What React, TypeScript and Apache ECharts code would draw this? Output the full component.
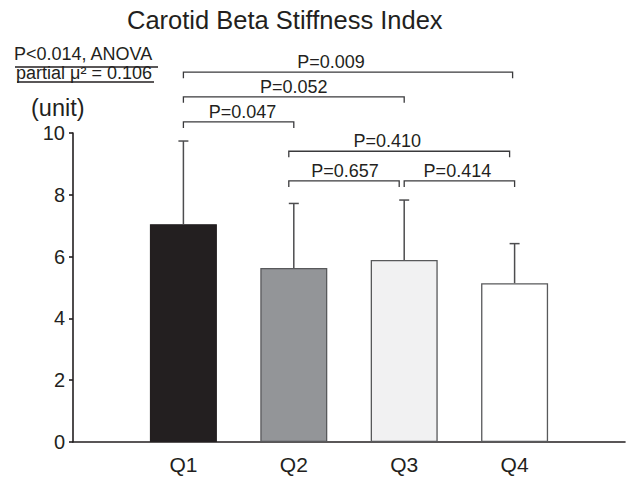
import React, { useEffect, useRef } from "react";
import * as echarts from "echarts";

const categories = ["Q1", "Q2", "Q3", "Q4"];
const means = [7.05, 5.63, 5.89, 5.14];
const sds = [2.69, 2.09, 1.94, 1.28];
const barColors = ["#231f20", "#939598", "#f1f1f2", "#ffffff"];
const yTicks = [0, 2, 4, 6, 8, 10];
const bracketFrom = ["Q1", "Q1", "Q1", "Q2", "Q2", "Q3"];
const bracketTo = ["Q4", "Q3", "Q2", "Q4", "Q3", "Q4"];
const bracketLevel = [11.97, 11.17, 10.36, 9.41, 8.45, 8.45];
const bracketLabels = ["P=0.009", "P=0.052", "P=0.047", "P=0.410", "P=0.657", "P=0.414"];
const titleText = "Carotid Beta Stiffness Index";
const anovaLines = ["P<0.014, ANOVA", "partial μ² = 0.106"];
const unitLabel = "(unit)";

// style-only pixel nudges
const bracketDx = [[0, -2], [0, 0], [0, 0], [-5, -5], [-5, -5], [0, 0]];
const labelDx = [-17, 0, 4, -12, 1, -2];

const FONT = "'Liberation Sans', Arial, Helvetica, sans-serif";
const INK = "#231f20";

export default function App() {
  const ref = useRef<HTMLDivElement>(null);
  useEffect(() => {
    if (!ref.current) return;
    const chart = echarts.init(ref.current, null, { renderer: "svg" });
    const axisData = ["", ...categories, ""];
    const idx = (c: string) => categories.indexOf(c) + 1;

    const barData = axisData.map((c, i) => {
      if (i === 0 || i === axisData.length - 1) return "-";
      const k = i - 1;
      return {
        value: means[k],
        itemStyle: {
          color: barColors[k],
          borderColor: k === 0 ? barColors[0] : "#58595b",
          borderWidth: 1.3,
        },
      };
    });

    const errData = categories.map((c, k) => [idx(c), means[k], sds[k]]);
    const brData = bracketFrom.map((f, i) => [idx(f), idx(bracketTo[i]), bracketLevel[i]]);

    chart.setOption({
      animation: false,
      textStyle: { fontFamily: FONT },
      grid: { left: 73, right: 1, top: 133, bottom: 37, outerBoundsMode: "none" },
      xAxis: {
        type: "category",
        data: axisData,
        boundaryGap: false,
        axisLine: { lineStyle: { color: INK, width: 1.6 } },
        axisTick: { show: false },
        axisLabel: { color: INK, fontSize: 21, margin: 12, fontFamily: FONT, interval: 0 },
        splitLine: { show: false },
      },
      yAxis: {
        type: "value",
        min: yTicks[0],
        max: yTicks[yTicks.length - 1],
        interval: yTicks[1] - yTicks[0],
        axisLine: { show: true, lineStyle: { color: INK, width: 1.6 } },
        axisTick: { show: true, length: 4, lineStyle: { color: INK, width: 1.6 } },
        axisLabel: { color: INK, fontSize: 20, margin: 8, fontFamily: FONT },
        splitLine: { show: false },
      },
      series: [
        {
          type: "bar",
          data: barData,
          barWidth: 67,
        },
        {
          type: "custom",
          data: errData,
          encode: { x: 0, y: 1 },
          z: 3,
          renderItem: (params: any, api: any) => {
            const x = api.value(0);
            const m = api.value(1);
            const s = api.value(2);
            const b = api.coord([x, m]);
            const t = api.coord([x, m + s]);
            const st = { stroke: "#4d4d4f", lineWidth: 1.5 };
            return {
              type: "group",
              children: [
                { type: "line", shape: { x1: b[0], y1: b[1], x2: t[0], y2: t[1] }, style: st },
                { type: "line", shape: { x1: t[0] - 5, y1: t[1], x2: t[0] + 5, y2: t[1] }, style: st },
              ],
            };
          },
        },
        {
          type: "custom",
          data: brData,
          encode: { x: [0, 1], y: 2 },
          clip: false,
          z: 4,
          renderItem: (params: any, api: any) => {
            const i = params.dataIndex;
            const p1 = api.coord([api.value(0), api.value(2)]);
            const p2 = api.coord([api.value(1), api.value(2)]);
            const x1 = p1[0] + bracketDx[i][0];
            const x2 = p2[0] + bracketDx[i][1];
            const y = p1[1];
            return {
              type: "group",
              children: [
                {
                  type: "polyline",
                  shape: { points: [[x1, y + 6], [x1, y], [x2, y], [x2, y + 6]] },
                  style: { stroke: "#3a3a3c", lineWidth: 1.3, fill: "none" },
                },
                {
                  type: "text",
                  x: (x1 + x2) / 2 + labelDx[i],
                  y: y - 1,
                  style: {
                    text: bracketLabels[i],
                    fontSize: 18,
                    fontFamily: FONT,
                    fill: INK,
                    align: "center",
                    verticalAlign: "bottom",
                  },
                },
              ],
            };
          },
        },
      ],
      graphic: [
        {
          type: "text",
          x: 127,
          y: 20,
          style: { text: titleText, fontSize: 25.5, fontFamily: FONT, fill: INK, align: "left", verticalAlign: "middle" },
        },
        {
          type: "text",
          x: 14,
          y: 54,
          style: { text: anovaLines[0], fontSize: 18, fontFamily: FONT, fill: INK, align: "left", verticalAlign: "middle" },
        },
        { type: "line", shape: { x1: 15, y1: 67, x2: 158, y2: 67 }, style: { stroke: INK, lineWidth: 1.3 } },
        {
          type: "text",
          x: 16,
          y: 73.3,
          style: { text: anovaLines[1], fontSize: 18, fontFamily: FONT, fill: INK, align: "left", verticalAlign: "middle" },
        },
        { type: "line", shape: { x1: 17, y1: 82, x2: 154, y2: 82 }, style: { stroke: INK, lineWidth: 1.3 } },
        {
          type: "text",
          x: 31,
          y: 108,
          style: { text: unitLabel, fontSize: 23.5, fontFamily: FONT, fill: INK, align: "left", verticalAlign: "middle" },
        },
      ],
    });
    return () => chart.dispose();
  }, []);
  return <div ref={ref} style={{ width: 626, height: 479, position: "absolute", left: 0, top: 0 }} />;
}
